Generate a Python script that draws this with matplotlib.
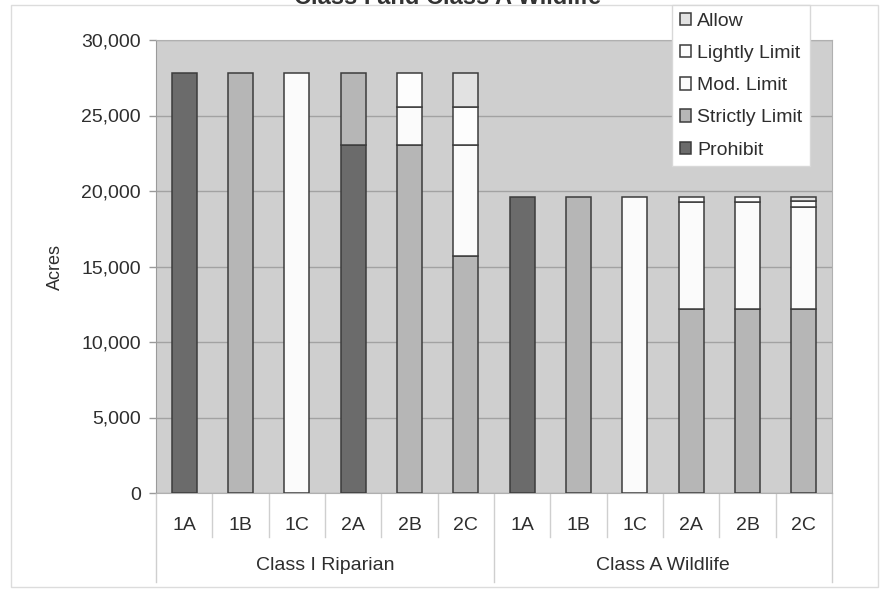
import numpy as np
import matplotlib
matplotlib.use("Agg")
import matplotlib.pyplot as plt
from matplotlib.patches import Rectangle
from matplotlib.transforms import blended_transform_factory

plt.rcParams["font.family"] = ["Liberation Sans", "DejaVu Sans"]

groups = ["Class I Riparian", "Class A Wildlife"]
scenarios = ["1A", "1B", "1C", "2A", "2B", "2C"]
categories = scenarios * 2

# acres per restriction level, stacked bottom to top
prohibit = [27800, 0, 0, 23050, 0, 0, 19600, 0, 0, 0, 0, 0]
strictly = [0, 27800, 0, 4750, 23050, 15700, 0, 19600, 0, 12200, 12200, 12200]
mod_limit = [0, 0, 27800, 0, 2500, 7350, 0, 0, 19600, 7100, 7100, 6750]
lightly = [0, 0, 0, 0, 2250, 2500, 0, 0, 0, 300, 300, 380]
allow = [0, 0, 0, 0, 0, 2250, 0, 0, 0, 0, 0, 270]

layers = [
    ("Prohibit", prohibit, "#6b6b6b"),
    ("Strictly Limit", strictly, "#b6b6b6"),
    ("Mod. Limit", mod_limit, "#fbfbfb"),
    ("Lightly Limit", lightly, "#fdfdfd"),
    ("Allow", allow, "#e2e2e2"),
]

W, H = 886, 589
fig = plt.figure(figsize=(W / 100, H / 100), dpi=100)
ax = fig.add_axes([156 / W, 1 - 493 / H, (832 - 156) / W, (493 - 40) / H])
ax.set_facecolor("#cfcfcf")

x = np.arange(len(categories))
bottom = np.zeros(len(categories))
for name, vals, col in layers:
    vals = np.array(vals, dtype=float)
    keep = vals > 0
    ax.bar(x[keep], vals[keep], width=0.44, bottom=bottom[keep], color=col,
           edgecolor="#3c3c3c", linewidth=1.1, label=name, zorder=3)
    bottom += vals

ax.set_xlim(-0.5, len(categories) - 0.5)
ax.set_ylim(0, 30000)
ax.set_yticks(np.arange(0, 30001, 5000))
ax.set_yticklabels([f"{v:,}" for v in range(0, 30001, 5000)])
ax.yaxis.grid(True, color="#a2a2a2", linewidth=1.0, zorder=1)
ax.tick_params(axis="y", labelsize=14, labelcolor="#2e2e2e", color="#9a9a9a",
               length=5, width=1, pad=6)
ax.set_xticks([])
ax.set_ylabel("Acres", fontsize=13, color="#2e2e2e", labelpad=12)
for side in ["top", "right", "bottom"]:
    ax.spines[side].set_color("#b0b0b0")
    ax.spines[side].set_linewidth(0.8)
ax.spines["left"].set_color("#9a9a9a")

# category and group labels under the axis
trans = blended_transform_factory(ax.transData, ax.transAxes)
for i, lab in enumerate(categories):
    ax.text(i, -0.071, lab, transform=trans, ha="center", va="center",
            fontsize=14, color="#2e2e2e")
for edge in np.arange(-0.5, len(categories), 1.0):
    long_line = abs((edge + 0.5) % 6) < 1e-9
    y_end = -0.197 if long_line else -0.097
    ax.plot([edge, edge], [0, y_end], transform=trans, color="#cfcfcf",
            linewidth=1, clip_on=False)
for g, name in enumerate(groups):
    ax.text(g * 6 + 2.5, -0.159, name, transform=trans, ha="center",
            va="center", fontsize=14, color="#2e2e2e")

# outer chart frame
fig.add_artist(Rectangle((11 / W, 1 - 587 / H), (878 - 11) / W, (587 - 5) / H,
                         transform=fig.transFigure, fill=False,
                         edgecolor="#dcdcdc", linewidth=1))

fig.text(448 / W, 1 - 4 / H, "Class I and Class A Wildlife", ha="center",
         va="baseline", fontsize=17, fontweight="bold", color="#333333")

handles, labels = ax.get_legend_handles_labels()
leg = fig.legend(handles[::-1], labels[::-1], loc="upper left",
                 bbox_to_anchor=(672 / W, 1 - 5 / H), borderaxespad=0,
                 fontsize=14, frameon=True, fancybox=False,
                 handlelength=0.6, handleheight=0.6, handletextpad=0.3,
                 labelspacing=0.78, borderpad=0.4)
leg.get_frame().set_edgecolor("#d8d8d8")
leg.get_frame().set_linewidth(1)
leg.get_frame().set_alpha(1)
for t in leg.get_texts():
    t.set_color("#2e2e2e")

fig.savefig("out.png", dpi=100, facecolor="white")
